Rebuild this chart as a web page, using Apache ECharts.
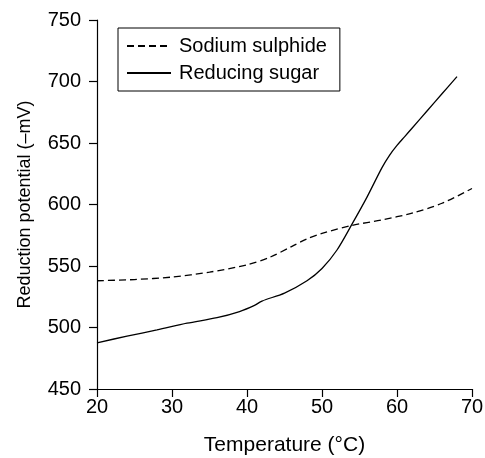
<!DOCTYPE html>
<html>
<head>
<meta charset="utf-8">
<script src="https://cdn.jsdelivr.net/npm/echarts@6/dist/echarts.min.js"></script>
<style>
  html, body { margin: 0; padding: 0; background: #fff; }
  #chart { width: 485px; height: 458px; }
</style>
</head>
<body>
<div id="chart"></div>
<script>
// Reduction potential vs. temperature for two reducing agents
var seriesNames = ['Sodium sulphide', 'Reducing sugar'];

var sodiumSulphide = [
  [20, 538], [25, 539], [30, 541], [35, 545], [40, 551], [43, 557],
  [46, 566], [48, 572], [50, 576.5], [54, 583], [58, 587.5], [62, 593],
  [66, 601], [70, 613]
];

var reducingSugar = [
  [20, 487.5], [24, 493], [28, 498], [32, 503.5], [36, 508], [39, 513],
  [41, 518], [42, 521.5], [45, 528], [48, 538], [50, 548], [52, 563],
  [54, 584], [56, 606], [58, 630], [59, 640], [60, 648], [61, 655],
  [62, 662], [64, 676], [66, 690], [68, 704]
];

var xTicks = { min: 20, max: 70, interval: 10 };
var yTicks = { min: 450, max: 750, interval: 50 };

var font = 'Liberation Sans, Arial, Helvetica, sans-serif';
var chart = echarts.init(document.getElementById('chart'), null, { renderer: 'canvas' });

chart.setOption({
  animation: false,
  backgroundColor: '#fff',
  textStyle: { fontFamily: font, color: '#000' },
  grid: {
    left: 97, right: 13, top: 20, bottom: 69,
    containLabel: false, outerBoundsMode: 'none'
  },
  legend: {
    left: 118, top: 28,
    orient: 'vertical',
    data: seriesNames,
    itemWidth: 44, itemHeight: 14, itemGap: 7,
    padding: [8, 13, 8, 8],
    borderColor: '#000', borderWidth: 1, borderRadius: 0,
    backgroundColor: '#fff',
    itemStyle: { color: 'rgba(0,0,0,0)', borderWidth: 0, opacity: 0 },
    textStyle: { fontFamily: font, fontSize: 20, color: '#000', padding: [0, 0, 0, 3] }
  },
  xAxis: {
    type: 'value',
    min: xTicks.min, max: xTicks.max, interval: xTicks.interval,
    name: 'Temperature (°C)',
    nameLocation: 'middle', nameGap: 46,
    nameTextStyle: { fontFamily: font, fontSize: 21, color: '#000' },
    axisLine: { show: true, lineStyle: { color: '#000', width: 1.2 } },
    axisTick: { show: true, length: 8, lineStyle: { color: '#000', width: 1.2 } },
    axisLabel: { fontFamily: font, fontSize: 20, color: '#000', margin: 8 },
    splitLine: { show: false }
  },
  yAxis: {
    type: 'value',
    min: yTicks.min, max: yTicks.max, interval: yTicks.interval,
    name: 'Reduction potential (\u2013mV)',
    nameLocation: 'middle', nameGap: 63, nameRotate: 90,
    nameTextStyle: { fontFamily: font, fontSize: 18, color: '#000' },
    axisLine: { show: true, lineStyle: { color: '#000', width: 1.2 } },
    axisTick: { show: true, length: 8, lineStyle: { color: '#000', width: 1.2 } },
    axisLabel: { fontFamily: font, fontSize: 20, color: '#000', margin: 16 },
    splitLine: { show: false }
  },
  series: [
    {
      name: seriesNames[0], type: 'line', data: sodiumSulphide,
      smooth: 0.3, symbol: 'none',
      lineStyle: { color: '#000', width: 1.3, type: [7, 4] },
      itemStyle: { color: '#000' }
    },
    {
      name: seriesNames[1], type: 'line', data: reducingSugar,
      smooth: 0.3, symbol: 'none',
      lineStyle: { color: '#000', width: 1.3, type: 'solid' },
      itemStyle: { color: '#000' }
    }
  ]
});
</script>
</body>
</html>
